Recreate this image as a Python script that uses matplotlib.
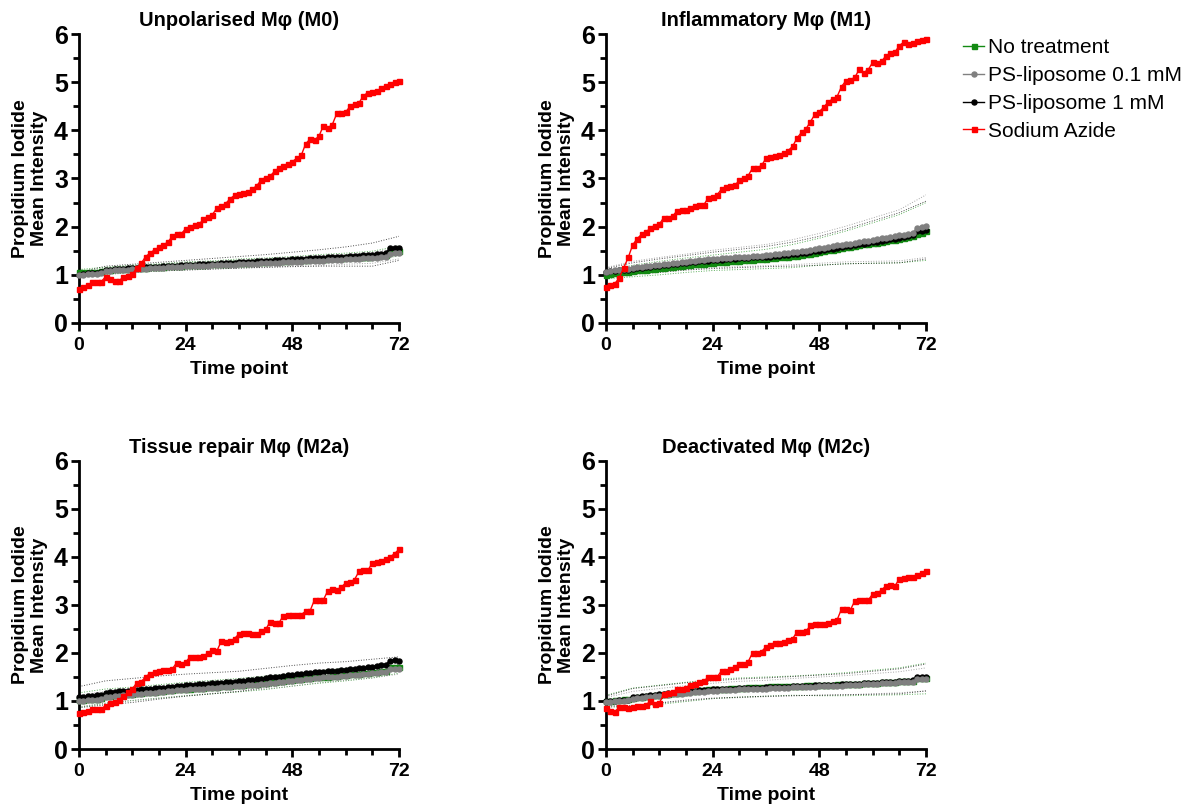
import numpy as np
import matplotlib
matplotlib.use("Agg")
import matplotlib.pyplot as plt
from matplotlib.ticker import MultipleLocator

plt.rcParams['font.family'] = ['Liberation Sans', 'DejaVu Sans']

hours = np.arange(0, 73)
sd_hours = hours[::6]

titles = ['Unpolarised M\u03c6 (M0)', 'Inflammatory M\u03c6 (M1)',
          'Tissue repair M\u03c6 (M2a)', 'Deactivated M\u03c6 (M2c)']
labels = ['No treatment', 'PS-liposome 0.1 mM', 'PS-liposome 1 mM', 'Sodium Azide']

# ---- M0 ----
m0_none = [1.06, 1.05, 1.05, 1.05, 1.06, 1.07, 1.10, 1.11, 1.12, 1.12, 1.13, 1.13,
           1.14, 1.14, 1.15, 1.15, 1.16, 1.16, 1.17, 1.17, 1.18, 1.18, 1.19, 1.19,
           1.20, 1.20, 1.21, 1.21, 1.21, 1.22, 1.22, 1.22, 1.23, 1.23, 1.24, 1.24,
           1.25, 1.25, 1.25, 1.26, 1.26, 1.27, 1.27, 1.28, 1.28, 1.28, 1.29, 1.29,
           1.30, 1.30, 1.31, 1.31, 1.32, 1.32, 1.33, 1.33, 1.34, 1.34, 1.35, 1.35,
           1.36, 1.36, 1.37, 1.37, 1.38, 1.38, 1.39, 1.40, 1.41, 1.42, 1.50, 1.50, 1.50]
m0_low = [1.00, 1.00, 1.01, 1.01, 1.02, 1.03, 1.07, 1.08, 1.09, 1.10, 1.10, 1.11,
          1.12, 1.12, 1.13, 1.13, 1.14, 1.14, 1.15, 1.15, 1.16, 1.16, 1.17, 1.17,
          1.18, 1.18, 1.18, 1.19, 1.19, 1.19, 1.20, 1.20, 1.20, 1.21, 1.21, 1.21,
          1.22, 1.22, 1.23, 1.23, 1.23, 1.24, 1.24, 1.25, 1.25, 1.25, 1.26, 1.26,
          1.27, 1.27, 1.27, 1.28, 1.28, 1.28, 1.29, 1.29, 1.30, 1.30, 1.30, 1.31,
          1.32, 1.32, 1.33, 1.33, 1.34, 1.34, 1.35, 1.35, 1.36, 1.37, 1.44, 1.45, 1.45]
m0_high = [1.00, 1.02, 1.03, 1.04, 1.04, 1.05, 1.10, 1.11, 1.12, 1.12, 1.13, 1.14,
           1.14, 1.15, 1.15, 1.16, 1.16, 1.17, 1.17, 1.18, 1.18, 1.19, 1.19, 1.20,
           1.20, 1.21, 1.21, 1.22, 1.22, 1.23, 1.23, 1.23, 1.24, 1.24, 1.25, 1.25,
           1.26, 1.26, 1.27, 1.27, 1.28, 1.28, 1.29, 1.29, 1.30, 1.30, 1.31, 1.31,
           1.32, 1.32, 1.33, 1.33, 1.34, 1.34, 1.35, 1.35, 1.36, 1.36, 1.37, 1.37,
           1.38, 1.39, 1.39, 1.40, 1.41, 1.41, 1.42, 1.43, 1.44, 1.46, 1.55, 1.55, 1.55]
m0_azide = [0.71, 0.75, 0.78, 0.85, 0.86, 0.86, 0.96, 0.92, 0.87, 0.88, 0.95, 0.98,
            1.01, 1.15, 1.24, 1.38, 1.45, 1.52, 1.57, 1.62, 1.68, 1.80, 1.85, 1.85,
            1.96, 2.00, 2.03, 2.05, 2.15, 2.20, 2.25, 2.38, 2.42, 2.48, 2.58, 2.65,
            2.68, 2.70, 2.72, 2.78, 2.85, 2.97, 3.02, 3.05, 3.15, 3.22, 3.25, 3.30,
            3.35, 3.42, 3.48, 3.72, 3.82, 3.80, 3.88, 4.10, 4.05, 4.12, 4.35, 4.35,
            4.38, 4.50, 4.55, 4.57, 4.72, 4.78, 4.80, 4.82, 4.87, 4.92, 4.97, 5.00, 5.02]
m0_sd_none = [0.05, 0.06, 0.06, 0.06, 0.07, 0.07, 0.08, 0.08, 0.08, 0.09, 0.09, 0.10, 0.10]
m0_sd_low = [0.06, 0.07, 0.07, 0.07, 0.08, 0.08, 0.08, 0.09, 0.09, 0.10, 0.10, 0.11, 0.12]
m0_sd_high = [0.05, 0.08, 0.08, 0.09, 0.10, 0.11, 0.12, 0.13, 0.15, 0.17, 0.20, 0.24, 0.25]

# ---- M1 ----
m1_none = [1.00, 1.02, 1.03, 1.04, 1.05, 1.06, 1.08, 1.09, 1.10, 1.11, 1.12, 1.13,
           1.14, 1.15, 1.16, 1.17, 1.18, 1.19, 1.20, 1.21, 1.22, 1.23, 1.23, 1.24,
           1.25, 1.26, 1.26, 1.27, 1.28, 1.28, 1.29, 1.30, 1.30, 1.31, 1.32, 1.32,
           1.33, 1.34, 1.35, 1.36, 1.37, 1.38, 1.39, 1.40, 1.41, 1.43, 1.44, 1.46,
           1.48, 1.49, 1.51, 1.52, 1.54, 1.55, 1.57, 1.58, 1.60, 1.61, 1.63, 1.64,
           1.66, 1.67, 1.69, 1.70, 1.72, 1.73, 1.75, 1.77, 1.78, 1.80, 1.85, 1.86, 1.90]
m1_low = [1.05, 1.07, 1.09, 1.10, 1.12, 1.13, 1.15, 1.16, 1.17, 1.18, 1.19, 1.20,
          1.21, 1.22, 1.23, 1.24, 1.25, 1.26, 1.27, 1.28, 1.29, 1.30, 1.31, 1.32,
          1.33, 1.33, 1.34, 1.35, 1.35, 1.36, 1.37, 1.37, 1.38, 1.39, 1.39, 1.40,
          1.41, 1.42, 1.43, 1.44, 1.45, 1.46, 1.47, 1.48, 1.49, 1.50, 1.52, 1.53,
          1.55, 1.56, 1.58, 1.59, 1.61, 1.62, 1.64, 1.65, 1.67, 1.68, 1.70, 1.71,
          1.73, 1.74, 1.76, 1.77, 1.79, 1.80, 1.82, 1.83, 1.85, 1.87, 1.98, 1.99, 2.01]
m1_high = [1.05, 1.07, 1.08, 1.09, 1.10, 1.11, 1.13, 1.14, 1.15, 1.16, 1.17, 1.18,
           1.19, 1.20, 1.21, 1.22, 1.23, 1.24, 1.25, 1.26, 1.27, 1.28, 1.28, 1.29,
           1.30, 1.31, 1.31, 1.32, 1.32, 1.33, 1.34, 1.34, 1.35, 1.36, 1.36, 1.37,
           1.38, 1.38, 1.39, 1.40, 1.41, 1.42, 1.43, 1.44, 1.45, 1.46, 1.47, 1.49,
           1.50, 1.51, 1.53, 1.54, 1.56, 1.57, 1.59, 1.60, 1.62, 1.63, 1.65, 1.66,
           1.68, 1.69, 1.71, 1.72, 1.74, 1.75, 1.77, 1.79, 1.80, 1.82, 1.92, 1.92, 1.93]
m1_azide = [0.74, 0.78, 0.82, 0.94, 1.15, 1.36, 1.62, 1.75, 1.84, 1.88, 1.98, 2.02,
            2.05, 2.19, 2.19, 2.22, 2.33, 2.34, 2.35, 2.38, 2.43, 2.45, 2.45, 2.60,
            2.62, 2.66, 2.78, 2.82, 2.85, 2.86, 2.96, 3.02, 3.06, 3.22, 3.22, 3.27,
            3.42, 3.45, 3.47, 3.49, 3.52, 3.58, 3.67, 3.84, 3.96, 4.03, 4.18, 4.33,
            4.39, 4.48, 4.59, 4.65, 4.70, 4.91, 5.03, 5.05, 5.10, 5.27, 5.20, 5.26,
            5.41, 5.40, 5.43, 5.55, 5.60, 5.62, 5.76, 5.83, 5.80, 5.82, 5.85, 5.87, 5.90]
m1_sd_none = [0.08, 0.12, 0.14, 0.15, 0.16, 0.18, 0.20, 0.24, 0.28, 0.34, 0.42, 0.50, 0.60]
m1_sd_low = [0.10, 0.13, 0.15, 0.16, 0.18, 0.20, 0.22, 0.26, 0.31, 0.37, 0.45, 0.53, 0.65]
m1_sd_high = [0.08, 0.12, 0.14, 0.15, 0.17, 0.19, 0.21, 0.25, 0.30, 0.36, 0.44, 0.52, 0.60]

# ---- M2a ----
m2a_none = [1.02, 1.03, 1.04, 1.05, 1.05, 1.06, 1.10, 1.11, 1.12, 1.13, 1.14, 1.14,
            1.15, 1.16, 1.17, 1.18, 1.19, 1.19, 1.20, 1.21, 1.22, 1.23, 1.24, 1.25,
            1.25, 1.26, 1.27, 1.27, 1.28, 1.29, 1.29, 1.30, 1.31, 1.31, 1.32, 1.33,
            1.33, 1.34, 1.35, 1.35, 1.36, 1.37, 1.38, 1.39, 1.40, 1.41, 1.42, 1.43,
            1.44, 1.45, 1.46, 1.47, 1.48, 1.49, 1.50, 1.51, 1.51, 1.52, 1.53, 1.54,
            1.55, 1.56, 1.57, 1.57, 1.58, 1.59, 1.60, 1.61, 1.62, 1.63, 1.70, 1.70, 1.70]
m2a_low = [1.00, 1.01, 1.02, 1.03, 1.03, 1.04, 1.08, 1.09, 1.10, 1.11, 1.12, 1.12,
           1.13, 1.14, 1.15, 1.16, 1.17, 1.17, 1.18, 1.19, 1.20, 1.21, 1.22, 1.22,
           1.23, 1.24, 1.25, 1.25, 1.26, 1.27, 1.27, 1.28, 1.29, 1.29, 1.30, 1.31,
           1.31, 1.32, 1.33, 1.33, 1.34, 1.35, 1.36, 1.37, 1.38, 1.39, 1.40, 1.41,
           1.42, 1.43, 1.44, 1.45, 1.46, 1.47, 1.48, 1.49, 1.49, 1.50, 1.51, 1.52,
           1.53, 1.54, 1.55, 1.55, 1.56, 1.57, 1.58, 1.59, 1.60, 1.61, 1.66, 1.66, 1.66]
m2a_high = [1.08, 1.09, 1.10, 1.11, 1.12, 1.12, 1.17, 1.18, 1.19, 1.20, 1.20, 1.21,
            1.22, 1.23, 1.24, 1.25, 1.26, 1.27, 1.28, 1.28, 1.29, 1.30, 1.31, 1.32,
            1.33, 1.34, 1.34, 1.35, 1.36, 1.36, 1.37, 1.38, 1.38, 1.39, 1.40, 1.40,
            1.41, 1.42, 1.43, 1.44, 1.45, 1.46, 1.48, 1.49, 1.50, 1.51, 1.52, 1.54,
            1.55, 1.56, 1.57, 1.58, 1.59, 1.60, 1.61, 1.61, 1.62, 1.62, 1.63, 1.64,
            1.65, 1.66, 1.67, 1.68, 1.69, 1.70, 1.71, 1.73, 1.74, 1.76, 1.84, 1.85, 1.84]
m2a_azide = [0.74, 0.77, 0.80, 0.84, 0.84, 0.84, 0.90, 0.95, 0.98, 1.03, 1.10, 1.18,
             1.25, 1.38, 1.40, 1.51, 1.57, 1.60, 1.62, 1.64, 1.65, 1.67, 1.80, 1.78,
             1.81, 1.92, 1.92, 1.92, 1.93, 2.00, 2.06, 2.04, 2.24, 2.22, 2.24, 2.30,
             2.40, 2.41, 2.42, 2.39, 2.40, 2.45, 2.49, 2.65, 2.63, 2.63, 2.78, 2.79,
             2.79, 2.79, 2.80, 2.87, 2.88, 3.11, 3.11, 3.11, 3.30, 3.33, 3.32, 3.37,
             3.46, 3.48, 3.53, 3.70, 3.72, 3.72, 3.88, 3.89, 3.91, 3.96, 4.00, 4.07, 4.16]
m2a_sd_none = [0.15, 0.15, 0.14, 0.14, 0.14, 0.14, 0.14, 0.14, 0.13, 0.13, 0.13, 0.12, 0.12]
m2a_sd_low = [0.12, 0.12, 0.12, 0.12, 0.12, 0.11, 0.11, 0.11, 0.11, 0.10, 0.10, 0.10, 0.10]
m2a_sd_high = [0.22, 0.25, 0.25, 0.24, 0.23, 0.22, 0.21, 0.20, 0.19, 0.18, 0.17, 0.16, 0.08]

# ---- M2c ----
m2c_none = [1.00, 1.01, 1.02, 1.03, 1.04, 1.05, 1.07, 1.08, 1.09, 1.10, 1.11, 1.12,
            1.13, 1.14, 1.15, 1.16, 1.17, 1.18, 1.19, 1.20, 1.21, 1.22, 1.23, 1.24,
            1.25, 1.25, 1.26, 1.26, 1.27, 1.27, 1.28, 1.28, 1.29, 1.29, 1.30, 1.30,
            1.30, 1.31, 1.31, 1.31, 1.31, 1.32, 1.32, 1.32, 1.32, 1.33, 1.33, 1.33,
            1.33, 1.34, 1.34, 1.34, 1.35, 1.35, 1.35, 1.36, 1.36, 1.36, 1.37, 1.37,
            1.38, 1.38, 1.39, 1.39, 1.40, 1.40, 1.41, 1.41, 1.42, 1.42, 1.47, 1.47, 1.47]
m2c_low = [0.97, 0.98, 0.99, 1.00, 1.01, 1.02, 1.05, 1.06, 1.07, 1.08, 1.09, 1.10,
           1.11, 1.12, 1.13, 1.14, 1.14, 1.15, 1.16, 1.17, 1.18, 1.19, 1.19, 1.20,
           1.21, 1.21, 1.22, 1.22, 1.23, 1.23, 1.24, 1.24, 1.25, 1.25, 1.26, 1.26,
           1.26, 1.27, 1.27, 1.28, 1.28, 1.28, 1.29, 1.29, 1.29, 1.30, 1.30, 1.30,
           1.31, 1.31, 1.31, 1.32, 1.32, 1.32, 1.33, 1.33, 1.34, 1.34, 1.35, 1.35,
           1.36, 1.36, 1.37, 1.37, 1.38, 1.38, 1.39, 1.39, 1.40, 1.40, 1.45, 1.45, 1.45]
m2c_high = [1.00, 1.01, 1.01, 1.02, 1.02, 1.03, 1.08, 1.09, 1.10, 1.11, 1.12, 1.13,
            1.14, 1.15, 1.16, 1.17, 1.18, 1.19, 1.20, 1.20, 1.21, 1.22, 1.22, 1.23,
            1.24, 1.24, 1.25, 1.25, 1.26, 1.26, 1.27, 1.27, 1.27, 1.28, 1.28, 1.28,
            1.29, 1.29, 1.29, 1.30, 1.30, 1.30, 1.31, 1.31, 1.32, 1.32, 1.32, 1.33,
            1.33, 1.33, 1.34, 1.34, 1.34, 1.35, 1.35, 1.35, 1.36, 1.36, 1.37, 1.37,
            1.38, 1.38, 1.39, 1.39, 1.40, 1.40, 1.41, 1.41, 1.42, 1.43, 1.50, 1.50, 1.49]
m2c_azide = [0.85, 0.80, 0.78, 0.87, 0.87, 0.86, 0.88, 0.89, 0.90, 0.92, 1.00, 0.94,
             0.96, 1.14, 1.16, 1.18, 1.25, 1.25, 1.28, 1.33, 1.36, 1.39, 1.41, 1.50,
             1.50, 1.50, 1.63, 1.63, 1.66, 1.70, 1.78, 1.78, 1.82, 2.01, 2.01, 2.03,
             2.13, 2.17, 2.20, 2.20, 2.22, 2.27, 2.30, 2.44, 2.44, 2.45, 2.58, 2.60,
             2.60, 2.60, 2.63, 2.67, 2.69, 2.92, 2.92, 2.90, 3.09, 3.10, 3.10, 3.10,
             3.23, 3.24, 3.31, 3.40, 3.42, 3.39, 3.55, 3.57, 3.58, 3.59, 3.62, 3.66, 3.71]
m2c_sd_none = [0.12, 0.20, 0.20, 0.20, 0.20, 0.20, 0.20, 0.20, 0.22, 0.24, 0.26, 0.28, 0.32]
m2c_sd_low = [0.10, 0.15, 0.15, 0.16, 0.16, 0.17, 0.17, 0.18, 0.19, 0.20, 0.21, 0.22, 0.24]
m2c_sd_high = [0.10, 0.18, 0.18, 0.18, 0.18, 0.19, 0.19, 0.20, 0.21, 0.22, 0.24, 0.26, 0.28]

panels = [
    (m0_none, m0_low, m0_high, m0_azide, m0_sd_none, m0_sd_low, m0_sd_high),
    (m1_none, m1_low, m1_high, m1_azide, m1_sd_none, m1_sd_low, m1_sd_high),
    (m2a_none, m2a_low, m2a_high, m2a_azide, m2a_sd_none, m2a_sd_low, m2a_sd_high),
    (m2c_none, m2c_low, m2c_high, m2c_azide, m2c_sd_none, m2c_sd_low, m2c_sd_high),
]

colors = ['#138a13', '#808080', '#000000', '#ff0000']
markers = ['s', 'o', 'o', 's']

fig = plt.figure(figsize=(11.89, 8.05), dpi=100)
W, H = 1189.0, 805.0
# axes positions in pixels: (x0, y_top, x1, y_bottom)
boxes = [(79, 34, 399, 323), (606, 34, 926, 323),
         (79, 461, 399, 749), (606, 461, 926, 749)]

handles = []
for i, (box, data) in enumerate(zip(boxes, panels)):
    x0, yt, x1, yb = box
    ax = fig.add_axes([x0 / W, 1 - yb / H, (x1 - x0) / W, (yb - yt) / H])
    none, low, high, azide, sd_none, sd_low, sd_high = data

    # dotted SD envelopes
    for mean, sd, c in [(none, sd_none, colors[0]), (low, sd_low, colors[1]),
                        (high, sd_high, colors[2])]:
        m = np.array(mean)[::6]
        ax.plot(sd_hours, m + np.array(sd), ':', color=c, lw=0.7, alpha=0.7)
        ax.plot(sd_hours, m - np.array(sd), ':', color=c, lw=0.7, alpha=0.7)

    hs = []
    for series, c, mk, lab in zip([none, high, low, azide],
                                  [colors[0], colors[2], colors[1], colors[3]],
                                  [markers[0], markers[2], markers[1], markers[3]],
                                  [labels[0], labels[2], labels[1], labels[3]]):
        ln, = ax.plot(hours, series, '-', color=c, marker=mk, markersize=3.6,
                      lw=1.0, clip_on=False, zorder=3, label=lab)
        hs.append(ln)
    if i == 0:
        handles = [hs[0], hs[2], hs[1], hs[3]]

    ax.set_xlim(0, 72)
    ax.set_ylim(0, 6)
    ax.xaxis.set_major_locator(MultipleLocator(24))
    ax.xaxis.set_minor_locator(MultipleLocator(6))
    ax.yaxis.set_major_locator(MultipleLocator(1))
    ax.yaxis.set_minor_locator(MultipleLocator(0.5))
    for side in ['top', 'right']:
        ax.spines[side].set_visible(False)
    for side in ['left', 'bottom']:
        ax.spines[side].set_linewidth(2)
    ax.tick_params(which='major', length=6, width=2)
    ax.tick_params(which='minor', length=4, width=2)
    ax.tick_params(axis='y', labelsize=18, pad=2)
    ax.tick_params(axis='x', labelsize=14, pad=4)
    for lbl in ax.get_xticklabels() + ax.get_yticklabels():
        lbl.set_fontweight('bold')
    ax.set_title(titles[i], fontsize=14.5, fontweight='bold', pad=6)
    ax.set_xlabel('Time point', fontsize=14, fontweight='bold', labelpad=5)
    ax.set_ylabel('Propidium Iodide\nMean Intensity', fontsize=14,
                  fontweight='bold', labelpad=4)

leg = fig.legend(handles, labels, loc='upper left', bbox_to_anchor=(955 / W, 1 - 30 / H),
                 frameon=False, fontsize=15, handlelength=1.0, handletextpad=0.2,
                 labelspacing=0.42, borderaxespad=0)

fig.savefig('out.png', dpi=100)
